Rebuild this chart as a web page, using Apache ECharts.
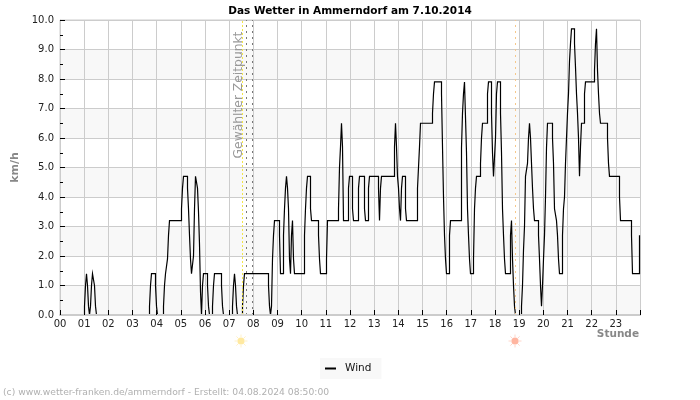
<!DOCTYPE html>
<html><head><meta charset="utf-8">
<script src="https://cdn.jsdelivr.net/npm/echarts@6/dist/echarts.min.js"></script>
<style>html,body{margin:0;padding:0;background:#fff}#c{width:700px;height:400px}</style>
</head><body><div id="c"></div>
<script>
const chartTitle = 'Das Wetter in Ammerndorf am 7.10.2014';
const footerText = '(c) www.wetter-franken.de/ammerndorf - Erstellt: 04.08.2024 08:50:00';
const seriesName = 'Wind';
const markerText = 'Gewählter Zeitpunkt';
const slotsPerDay = 580; // the record's time slots: 580 per day
const windSlots = [
0,24,25,26,27,28,29,30,31,32,34,35,36,
89,90,91,95,96,97,103,104,105,107,108,109,
121,122,123,127,128,129,130,131,133,134,135,137,138,139,
140,141,142,143,147,148,149,152,153,154,161,162,163,
172,173,174,175,176,177,182,183,184,208,209,210,211,212,213,214,
219,220,223,224,225,226,227,228,229,230,231,232,233,234,
244,245,246,247,250,251,258,259,260,266,267,278,279,280,281,282,283,
288,289,292,293,298,299,304,305,308,309,318,319,320,321,
334,335,336,337,338,339,340,341,342,345,346,357,358,359,360,
372,373,374,381,382,383,384,385,386,389,390,
401,402,403,404,405,406,407,408,409,410,413,414,415,416,
420,421,422,427,428,431,432,433,435,436,437,
440,441,442,443,444,445,450,451,452,453,454,455,
461,462,463,464,465,467,468,469,470,471,472,473,474,478,479,480,481,
482,483,484,485,486,487,492,493,494,496,497,498,499,
502,503,504,505,506,507,508,509,510,511,514,515,516,517,518,519,520,521,
524,525,534,535,536,537,538,539,540,547,548,549,559,560,571,572,579];
const windValues = [
0,.3,1,1.4,1,.3,0,.3,1,1.4,1,.3,0,
.3,1,1.4,1,.3,0,.3,1,1.4,1.9,2.7,3.2,
3.6,4.3,4.7,4.3,3.6,2.7,1.9,1.4,2,3.6,4.7,4.3,3.5,2.4,
.8,0,1,1.4,1,.3,0,.3,1,1.4,1,.3,0,
.3,1,1.4,1,.3,0,.3,1,1.4,1,.3,0,.3,1.9,2.7,3.2,
2.7,1.4,2.7,3.6,4.3,4.7,4.3,3.6,1.9,1.4,2.7,3.2,1.9,1.4,
2.7,3.6,4.3,4.7,3.6,3.2,2.7,1.9,1.4,1.9,3.2,3.6,5,5.7,6.5,5.7,3.2,
4.3,4.7,3.6,3.2,4.3,4.7,3.6,3.2,4.3,4.7,4.3,3.2,4.3,4.7,
5.7,6.5,5.7,4.7,4.3,3.6,3.2,4.3,4.7,3.6,3.2,4.3,5,5.7,6.5,
6.84,7.5,7.9,7.5,5.7,4,2.7,1.9,1.4,2.7,3.2,
5.67,6.84,7.5,7.9,6.7,5.5,3.6,2.7,1.9,1.4,1.9,3.6,4.3,4.7,
5.14,6,6.5,7.5,7.9,6.84,5.5,4.7,6,7.5,7.9,
6.84,5.5,3.6,2.7,1.9,1.4,2.7,3.2,1.9,1,.3,0,
.3,1,2.2,3,4.7,5.14,6,6.5,6,5.14,4.3,3.6,3.2,2.7,1.9,1,.3,
1,1.9,2.7,4,5.67,6.5,6,5.14,3.6,3.2,2.7,1.9,1.4,
2.7,3.6,4,5.14,6,6.84,7.5,8.6,9.2,9.7,9.2,8.4,7.5,6.84,6,4.7,5.7,6.5,
7.5,7.9,8.3,9.2,9.7,8.3,7.5,6.84,6.5,6,5.14,4.7,4,3.2,2.7,1.4,2.7];
const sunriseHour = 7.55, sunsetHour = 18.85;
const selectedHours = [7.72, 7.97];

const hours = s => (s + 0.5) * 24 / slotsPerDay;
const windData = windSlots.map((s, i) => [hours(s), windValues[i]]);
const font = 'DejaVu Sans';
const hourLabel = v => v >= 24 ? '' : String(v).padStart(2, '0');
const vLine = (x, color, type) => ({
  xAxis: x, lineStyle: {color, type, width: 1}
});
// a small sun: soft halo with rays round a solid disc
function sun(cx, cy, disc, ray) {
  const parts = [];
  for (let i = 0; i < 8; i++) {
    const a = i * Math.PI / 4;
    parts.push({type: 'line', z: 10, shape: {
      x1: cx + 4 * Math.cos(a), y1: cy + 4 * Math.sin(a),
      x2: cx + 6.5 * Math.cos(a), y2: cy + 6.5 * Math.sin(a)},
      style: {stroke: ray, lineWidth: 1}});
  }
  parts.push({type: 'circle', z: 11, shape: {cx, cy, r: 3.6}, style: {fill: disc}});
  return parts;
}

const chart = echarts.init(document.getElementById('c'), null, {renderer: 'canvas'});
chart.setOption({
  animation: false,
  backgroundColor: '#fff',
  textStyle: {fontFamily: font},
  title: {text: chartTitle, left: 'center', top: 1,
    textStyle: {fontFamily: font, fontSize: 10.5, fontWeight: 'bold', color: '#000'}},
  grid: {left: 60, right: 60, top: 20, bottom: 85, show: true, borderColor: '#ccc', borderWidth: 1, backgroundColor: 'transparent'},
  xAxis: [{
    type: 'value', min: 0, max: 24, interval: 1, position: 'bottom',
    axisLine: {show: false}, axisTick: {show: false},
    axisLabel: {formatter: hourLabel, color: '#222', fontSize: 10, margin: 4, showMaxLabel: true},
    splitLine: {show: true, lineStyle: {color: '#ccc', width: 1}}
  }, {
    type: 'value', min: 0, max: 24, interval: 1, position: 'bottom', z: 5,
    axisLine: {show: true, onZero: false, lineStyle: {color: '#ccc', width: 2}},
    axisTick: {show: true, inside: true, length: 5, lineStyle: {color: '#000', width: 1}},
    axisLabel: {show: false}, splitLine: {show: false},
    name: 'Stunde', nameLocation: 'end', nameGap: -1,
    nameTextStyle: {align: 'right', verticalAlign: 'top', padding: [14, 0, 0, 0],
      fontFamily: font, fontSize: 10.5, fontWeight: 'bold', color: '#888'}
  }],
  yAxis: {
    type: 'value', min: 0, max: 10, interval: 1,
    name: 'km/h', nameLocation: 'middle', nameGap: 39, nameRotate: 90,
    nameTextStyle: {fontFamily: font, fontSize: 11, fontWeight: 'bold', color: '#888'},
    axisLine: {show: true, lineStyle: {color: '#ccc'}},
    axisTick: {show: true, inside: true, length: 5, lineStyle: {color: '#000'}},
    minorTick: {show: true, splitNumber: 2, length: 3, lineStyle: {color: '#000'}},
    axisLabel: {formatter: v => v.toFixed(1), color: '#222', fontSize: 10, margin: 6},
    splitLine: {show: true, lineStyle: {color: '#ccc', width: 1}},
    splitArea: {show: true, areaStyle: {color: ['#f8f8f8', '#ffffff']}}
  },
  legend: {
    data: [seriesName], left: 320, top: 358, padding: [5, 10, 5, 5],
    backgroundColor: '#f8f8f8', itemWidth: 11, itemHeight: 2, icon: 'rect',
    itemGap: 0, textStyle: {fontFamily: font, fontSize: 10.5, color: '#111', padding: [0, 0, 0, 4]},
    selectedMode: false
  },
  series: [{
    name: seriesName, type: 'line', step: 'end', data: windData,
    showSymbol: false, symbol: 'none', clip: true, z: 3,
    itemStyle: {color: '#000'},
    lineStyle: {color: '#000', width: 1.2, join: 'miter'},
    markLine: {
      silent: true, symbol: 'none', label: {show: false}, animation: false,
      data: [vLine(sunriseHour, '#f2e64a', [2, 2]),
             vLine(selectedHours[0], '#777', [2, 4]),
             vLine(selectedHours[1], '#777', [2, 4]),
             vLine(sunsetHour, '#f7c88a', [2, 4])]
    }
  }],
  graphic: [
    {type: 'text', x: 239, y: 95, rotation: Math.PI / 2, z: 10,
      style: {text: markerText, fill: '#999', font: '12.3px "DejaVu Sans"', align: 'center', verticalAlign: 'middle'}},
    ...sun(241, 341, '#ffe9a0', '#fff1c8'),
    ...sun(515, 341, '#ffb5a0', '#ffd6ca'),
    {type: 'text', x: 3, y: 393, z: 10,
      style: {text: footerText, fill: '#b0b0b0', font: '9.2px "DejaVu Sans"', align: 'left', verticalAlign: 'middle'}}
  ]
});
</script>
</body></html>
